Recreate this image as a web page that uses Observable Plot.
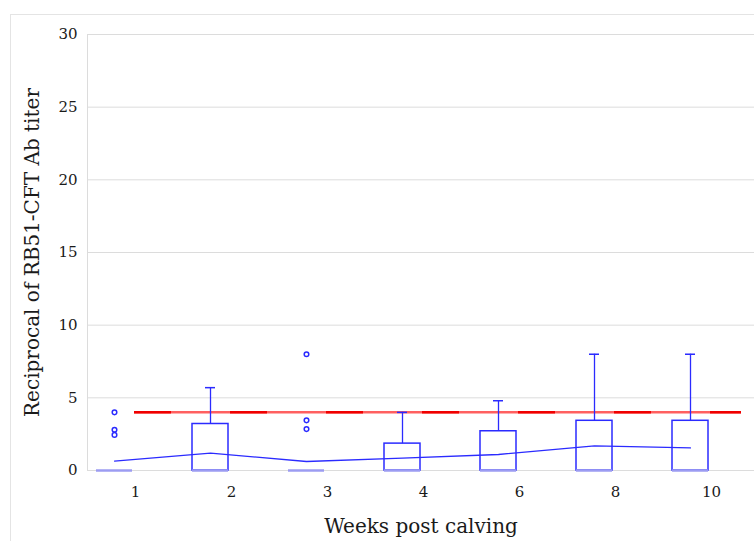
<!DOCTYPE html>
<html>
<head>
<meta charset="utf-8">
<script src="https://cdn.jsdelivr.net/npm/d3@7"></script>
<script src="https://cdn.jsdelivr.net/npm/@observablehq/plot@0.6"></script>
<style>
  html, body { margin: 0; padding: 0; background: #fff; overflow: hidden; }
  #frame { position: absolute; left: 10px; top: 14px; width: 800px; height: 600px;
           border-top: 1px solid #e4e4e4; border-left: 1px solid #e4e4e4; }
  #chart { position: absolute; left: 0; top: 0; }
  #chart svg text { font-size: 15px; fill: #1a1a1a; }
  #chart svg g[aria-label='x-axis label'] text,
  #chart svg g[aria-label='y-axis label'] text { font-size: 20px; }
</style>
</head>
<body>
<div id="frame"></div>
<div id="chart"></div>
<script>
const weeks = ["1", "2", "3", "4", "6", "8", "10"];
const q3 = [0, 3.2, 0, 1.85, 2.7, 3.42, 3.42];
const whiskerHigh = [0, 5.7, 0, 4, 4.8, 8, 8];
const medians = [0, 0, 0, 0, 0, 0, 0];
const means = [0.65, 1.2, 0.62, 0.85, 1.1, 1.7, 1.55];
const outlierWeek = ["1", "1", "1", "3", "3", "3"];
const outlierValue = [4, 2.8, 2.45, 8, 3.45, 2.85];
const threshold = 4;
const yTicks = [0, 5, 10, 15, 20, 25, 30];

const stats = weeks.map((w, i) => ({week: w, q3: q3[i], hi: whiskerHigh[i], med: medians[i], mean: means[i]}));
const withBox = stats.filter(d => d.q3 > 0);
const outliers = outlierWeek.map((w, i) => ({week: w, value: outlierValue[i]}));

const blue = "#2b2bff";
const off = -21;

const chart = Plot.plot({
  width: 754,
  height: 541,
  marginTop: 34,
  marginBottom: 71,
  marginLeft: 87,
  marginRight: 0,
  style: {fontFamily: "'DejaVu Serif', serif", fontSize: "15px", color: "#1a1a1a", background: "transparent"},
  x: {domain: weeks, range: [87, 759], padding: 0, label: "Weeks post calving", labelAnchor: "center",
      labelOffset: 62, tickSize: 0, tickPadding: 16},
  y: {domain: [0, 30], ticks: yTicks, label: "Reciprocal of RB51-CFT Ab titer", labelAnchor: "center",
      labelOffset: 63, tickSize: 0, tickPadding: 10, labelArrow: "none"},
  marks: [
    Plot.gridY(yTicks, {stroke: "#dcdcdc", strokeOpacity: 1}),
    Plot.ruleX([0], {x: () => weeks[0], dx: -48, y1: 0, y2: 30, stroke: "#dcdcdc"}),
    Plot.ruleY([threshold], {stroke: "#ff6060", strokeWidth: 2.5, insetLeft: 47, insetRight: 13}),
    Plot.ruleY([threshold], {stroke: "#f00000", strokeWidth: 2.5, insetLeft: 47, insetRight: 13, strokeDasharray: "37,59"}),
    Plot.ruleX(withBox, {x: "week", y1: "q3", y2: "hi", stroke: blue, strokeWidth: 1.3, dx: off}),
    Plot.tickY(withBox, {x: "week", y: "hi", stroke: blue, strokeWidth: 1.5, dx: off, insetLeft: 43, insetRight: 43}),
    Plot.barY(withBox, {x: "week", y1: 0, y2: "q3", fill: "none", stroke: blue, strokeWidth: 1.5, dx: off, insetLeft: 30, insetRight: 30}),
    Plot.tickY(stats, {x: "week", y: "med", stroke: "#9c9cf2", strokeWidth: 2.5, dx: off, insetLeft: 30, insetRight: 30}),
    Plot.line(stats, {x: "week", y: "mean", stroke: blue, strokeWidth: 1.3, dx: off}),
    Plot.dot(outliers, {x: "week", y: "value", r: 2.3, stroke: blue, strokeWidth: 1.5, fill: "white", dx: off})
  ]
});

document.getElementById("chart").appendChild(chart);
</script>
</body>
</html>
